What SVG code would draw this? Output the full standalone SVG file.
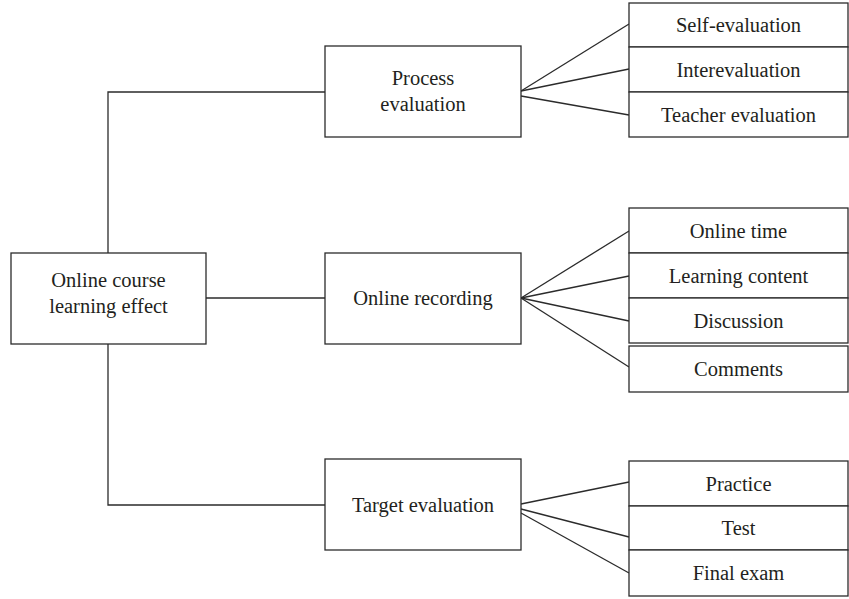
<svg xmlns="http://www.w3.org/2000/svg" width="849" height="599" viewBox="0 0 849 599">
  <style>
    .box { fill: #ffffff; stroke: #2b2b2b; stroke-width: 1.3; }
    .link { fill: none; stroke: #2b2b2b; stroke-width: 1.3; }
    .label { font-family: "Liberation Serif", "Times New Roman", serif; font-size: 20.5px; fill: #231f20; text-anchor: middle; }
  </style>
  <rect width="849" height="599" fill="#ffffff"/>

  <!-- connectors -->
  <g id="connectors">
    <!-- root to branches -->
    <polyline class="link" points="108,253 108,92 325,92"/>
    <line class="link" x1="206" y1="298" x2="325" y2="298"/>
    <polyline class="link" points="108,344 108,505 325,505"/>
    <!-- process evaluation fan -->
    <line class="link" x1="521" y1="91" x2="629" y2="24"/>
    <line class="link" x1="521" y1="91" x2="629" y2="69"/>
    <line class="link" x1="521" y1="96" x2="629" y2="115"/>
    <!-- online recording fan -->
    <line class="link" x1="521" y1="298" x2="629" y2="231"/>
    <line class="link" x1="521" y1="298" x2="629" y2="276"/>
    <line class="link" x1="521" y1="298" x2="629" y2="321"/>
    <line class="link" x1="521" y1="298" x2="629" y2="367"/>
    <!-- target evaluation fan -->
    <line class="link" x1="521" y1="504" x2="629" y2="482"/>
    <line class="link" x1="521" y1="509" x2="629" y2="537"/>
    <line class="link" x1="521" y1="513" x2="629" y2="573"/>
  </g>

  <!-- root -->
  <g id="root">
    <rect class="box" x="11" y="253" width="195" height="91"/>
    <text class="label" x="108.5" y="287">Online course</text>
    <text class="label" x="108.5" y="313">learning effect</text>
  </g>

  <!-- second level -->
  <g id="process-evaluation">
    <rect class="box" x="325" y="46" width="196" height="91"/>
    <text class="label" x="423" y="85">Process</text>
    <text class="label" x="423" y="111">evaluation</text>
  </g>
  <g id="online-recording">
    <rect class="box" x="325" y="253" width="196" height="91"/>
    <text class="label" x="423" y="305">Online recording</text>
  </g>
  <g id="target-evaluation">
    <rect class="box" x="325" y="459" width="196" height="91"/>
    <text class="label" x="423" y="512">Target evaluation</text>
  </g>

  <!-- leaves: process evaluation -->
  <g id="self-evaluation">
    <rect class="box" x="629" y="3" width="219" height="44"/>
    <text class="label" x="738.5" y="32">Self-evaluation</text>
  </g>
  <g id="interevaluation">
    <rect class="box" x="629" y="47" width="219" height="45"/>
    <text class="label" x="738.5" y="77">Interevaluation</text>
  </g>
  <g id="teacher-evaluation">
    <rect class="box" x="629" y="92" width="219" height="45"/>
    <text class="label" x="738.5" y="122">Teacher evaluation</text>
  </g>

  <!-- leaves: online recording -->
  <g id="online-time">
    <rect class="box" x="629" y="208" width="219" height="45"/>
    <text class="label" x="738.5" y="238">Online time</text>
  </g>
  <g id="learning-content">
    <rect class="box" x="629" y="253" width="219" height="45"/>
    <text class="label" x="738.5" y="283">Learning content</text>
  </g>
  <g id="discussion">
    <rect class="box" x="629" y="298" width="219" height="45"/>
    <text class="label" x="738.5" y="328">Discussion</text>
  </g>
  <g id="comments">
    <rect class="box" x="629" y="346" width="219" height="46"/>
    <text class="label" x="738.5" y="376">Comments</text>
  </g>

  <!-- leaves: target evaluation -->
  <g id="practice">
    <rect class="box" x="629" y="461" width="219" height="45"/>
    <text class="label" x="738.5" y="491">Practice</text>
  </g>
  <g id="test">
    <rect class="box" x="629" y="506" width="219" height="44"/>
    <text class="label" x="738.5" y="535">Test</text>
  </g>
  <g id="final-exam">
    <rect class="box" x="629" y="550" width="219" height="46"/>
    <text class="label" x="738.5" y="580">Final exam</text>
  </g>
</svg>
